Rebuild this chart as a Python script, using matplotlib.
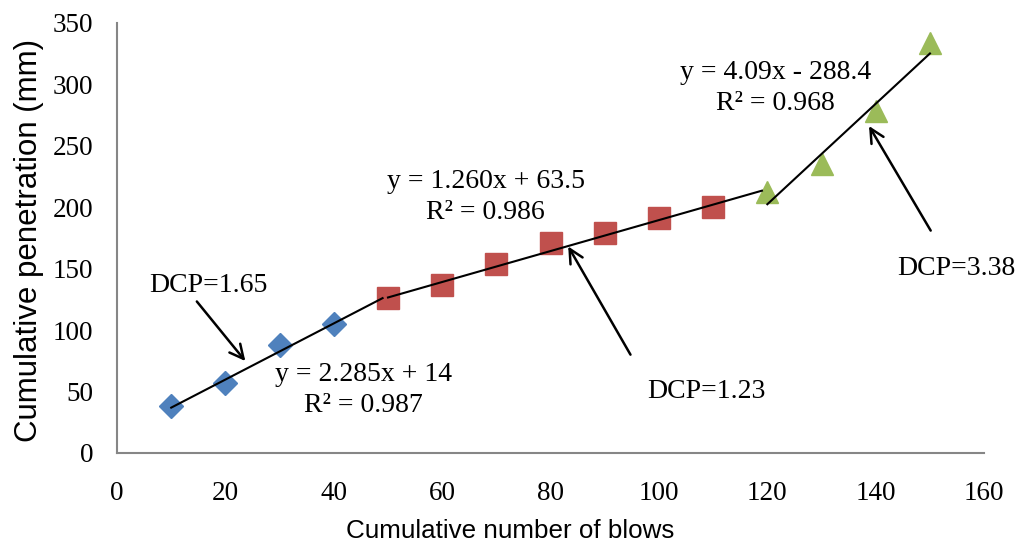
import numpy as np
import matplotlib.pyplot as plt

# measured points, one list per soil layer
blows_a = [10, 20, 30, 40]
pen_a = [38, 57, 88, 105]
blows_b = [50, 60, 70, 80, 90, 100, 110]
pen_b = [126, 137, 154, 171, 179, 191, 200]
blows_c = [120, 130, 140, 150]
pen_c = [212, 235, 278, 334]

# trendline coefficients (slope, intercept) and the x-range they span
fit_a = [2.285, 14.0]
fit_b = [1.260, 63.5]
fit_c = [4.09, -288.4]
span_a = [10, 49]
span_b = [50, 119]
span_c = [120, 150]

x_ticks = [0, 20, 40, 60, 80, 100, 120, 140, 160]
y_ticks = [0, 50, 100, 150, 200, 250, 300, 350]

serif = 'Liberation Serif'
sans = 'Liberation Sans'

fig = plt.figure(figsize=(10.23, 5.45), dpi=100)
ax = fig.add_axes([0.1144, 0.169, 0.8476, 0.789])

ax.plot(blows_a, pen_a, 'D', color='#4F81BD', markersize=12.5, zorder=2)
ax.plot(blows_b, pen_b, 's', color='#C0504D', markersize=15.5, zorder=2)
ax.plot(blows_c, pen_c, '^', color='#9BBB59', markersize=16, zorder=2)

for fit, span in [(fit_a, span_a), (fit_b, span_b), (fit_c, span_c)]:
    xs = np.array(span, dtype=float)
    ax.plot(xs, np.polyval(fit, xs), color='black', lw=1.5, zorder=3)

ax.set_xlim(0, 160)
ax.set_ylim(0, 350)
ax.set_xticks(x_ticks)
ax.set_yticks(y_ticks)
ax.tick_params(length=0, labelsize=19.5)
ax.tick_params(axis='x', pad=20)
ax.tick_params(axis='y', pad=17)
for lab in ax.get_xticklabels() + ax.get_yticklabels():
    lab.set_fontfamily(serif)

for side in ['top', 'right']:
    ax.spines[side].set_visible(False)
for side in ['left', 'bottom']:
    ax.spines[side].set_color('#868686')
    ax.spines[side].set_linewidth(1.5)

fig.text(510 / 1023, 1 - 531 / 545, 'Cumulative number of blows', fontsize=18.7,
         family=sans, ha='center', va='center')
fig.text(29 / 1023, 1 - 240 / 545, 'Cumulative penetration (mm)', fontsize=22.5,
         family=sans, ha='center', va='center', rotation=90)

# equations
eq_kw = dict(fontsize=20, family=serif, ha='center', va='center', linespacing=1.3)
ax.text(45.5, 51, 'y = 2.285x + 14\nR² = 0.987', **eq_kw)
ax.text(68, 208, 'y = 1.260x + 63.5\nR² = 0.986', **eq_kw)
ax.text(121.5, 297, 'y = 4.09x - 288.4\nR² = 0.968', **eq_kw)

# DCP arrows
arr = dict(arrowstyle='->', color='black', lw=1.8, mutation_scale=25)
lab_kw = dict(fontsize=20, family=serif, ha='center', va='center', clip_on=False)
ax.annotate('', xy=(24, 73), xytext=(14.4, 125), arrowprops=arr)
ax.text(16.8, 136, 'DCP=1.65', **lab_kw)
ax.annotate('', xy=(83, 170), xytext=(95, 78), arrowprops=arr)
ax.text(108.7, 50, 'DCP=1.23', **lab_kw)
ax.annotate('', xy=(138.5, 268), xytext=(150.4, 179), arrowprops=arr)
ax.text(154.8, 150, 'DCP=3.38', **lab_kw)

fig.savefig('out.png', dpi=100)
